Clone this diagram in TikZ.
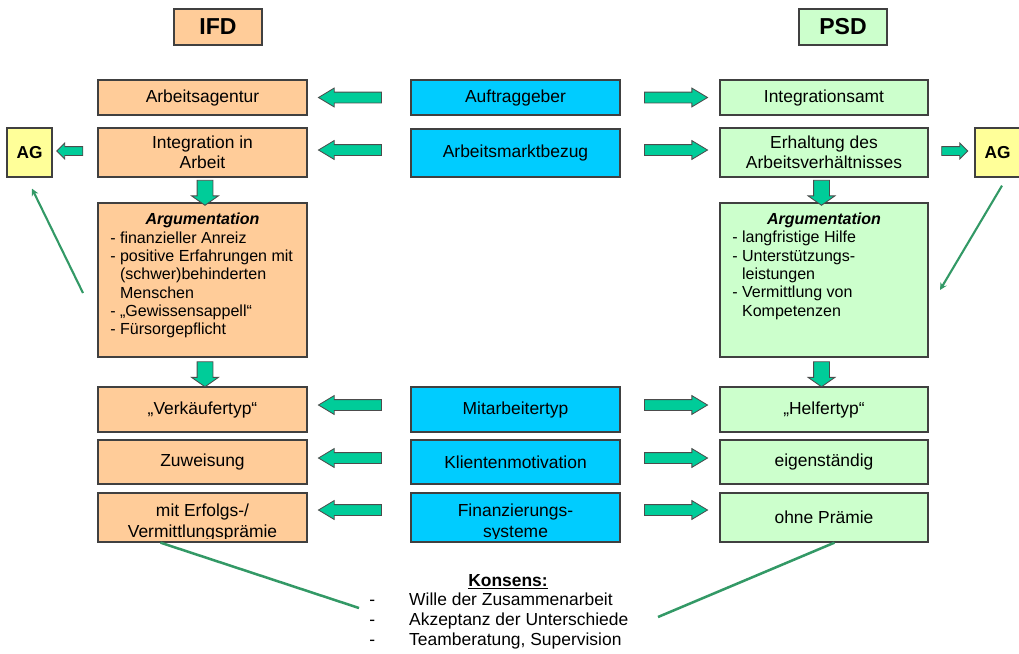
\documentclass[tikz,border=0pt]{standalone}
\usepackage{fontspec}
\setmainfont{Liberation Sans}
\usetikzlibrary{shapes.arrows,arrows.meta,calc}
\newlength\px
\setlength\px{0.025cm}
\definecolor{ifdorange}{HTML}{FFCC99}
\definecolor{psdgreen}{HTML}{CCFFCC}
\definecolor{midblue}{HTML}{00CCFF}
\definecolor{agyellow}{HTML}{FFFF99}
\definecolor{arrowgreen}{HTML}{00CC99}
\definecolor{linegreen}{HTML}{339966}
\tikzset{
  box/.style={draw=black!75, line width=0.9pt, minimum width=209\px, align=center, inner sep=0pt, font=\fontsize{12.4}{14.3}\selectfont},
  ifdbox/.style={box, fill=ifdorange},
  psdbox/.style={box, fill=psdgreen, minimum width=208\px},
  midbox/.style={box, fill=midblue},
  headbox/.style={box, minimum width=88\px, minimum height=36\px, font=\fontsize{16.4}{18}\selectfont\bfseries},
  agbox/.style={box, fill=agyellow, minimum width=45\px, minimum height=49\px, font=\fontsize{12.3}{14}\selectfont\bfseries},
  boxtext/.style={align=center, inner sep=0pt, font=\fontsize{12.4}{14.3}\selectfont},
  listtitle/.style={inner sep=0pt, font=\fontsize{11.4}{13}\selectfont\bfseries\itshape},
  listtext/.style={align=left, inner sep=0pt, font=\fontsize{11.4}{13}\selectfont},
  blockarrow/.style={single arrow, draw=black!70, fill=arrowgreen, line width=0.6pt, inner sep=5\px, minimum height=63\px, single arrow head extend=4\px, single arrow tip angle=62},
  leftarrow/.style={blockarrow, rotate=180},
  downarrow/.style={blockarrow, rotate=-90, inner sep=7.5\px, minimum height=25\px, single arrow head extend=5.5\px, single arrow tip angle=110},
  smallarrow/.style={blockarrow, inner sep=4\px, minimum height=26\px, single arrow head extend=3.5\px, single arrow tip angle=90},
  agline/.style={linegreen, line width=1.5pt, -{Stealth[length=5pt,width=5pt]}},
  konsline/.style={linegreen, line width=1.8pt},
}
\begin{document}
\begin{tikzpicture}[x=0.025cm, y=-0.025cm]
    \useasboundingbox (0,0) rectangle (1019,653);
    % Kopfzeile
    \node [headbox, fill=ifdorange] (ifd) at (218,27) {IFD};
    \node [headbox, fill=psdgreen] (psd) at (843,27) {PSD};
    % linke Spalte (IFD)
    \node [ifdbox, minimum height=35\px] (arbag) at (202.5,97.5) {Arbeitsagentur};
    \node [ifdbox, minimum height=49\px] (integ) at (202.5,152.5) {Integration in\\Arbeit};
    \node [ifdbox, minimum height=154\px] (argl) at (202.5,280) {};
    \node [ifdbox, minimum height=45\px] (verk) at (202.5,409.5) {„Verkäufertyp“};
    \node [ifdbox, minimum height=44\px] (zuw) at (202.5,462) {Zuweisung};
    \node [ifdbox, minimum height=49\px] (erfolg) at (202.5,517.5) {};
    % mittlere Spalte
    \node [midbox, minimum height=35\px] (auftr) at (515.5,97.5) {Auftraggeber};
    \node [midbox, minimum height=48\px] (amb) at (515.5,153) {Arbeitsmarktbezug};
    \node [midbox, minimum height=45\px] (mitarb) at (515.5,409.5) {Mitarbeitertyp};
    \node [midbox, minimum height=44\px] (klient) at (515.5,462) {Klientenmotivation};
    \node [midbox, minimum height=49\px] (finanz) at (515.5,517.5) {};
    % rechte Spalte (PSD)
    \node [psdbox, minimum height=35\px] (intamt) at (824,97.5) {Integrationsamt};
    \node [psdbox, minimum height=49\px] (erhalt) at (824,152.5) {Erhaltung des\\Arbeitsverhältnisses};
    \node [psdbox, minimum height=154\px] (argr) at (824,280) {};
    \node [psdbox, minimum height=45\px] (helfer) at (824,409.5) {„Helfertyp“};
    \node [psdbox, minimum height=44\px] (eigen) at (824,462) {eigenständig};
    \node [psdbox, minimum height=49\px] (ohne) at (824,517.5) {ohne Prämie};
    % Arbeitgeber
    \node [agbox] (agL) at (29.5,152.5) {AG};
    \node [agbox] (agR) at (997.5,152.5) {AG};
    % Argumentation
    \node [listtitle, anchor=base] (argltitel) at (202.5,224) {Argumentation};
    \node [listtext, anchor=north west] (argltext) at (110,231.5) {- finanzieller Anreiz\\- positive Erfahrungen mit\\\phantom{- }(schwer)behinderten\\\phantom{- }Menschen\\- „Gewissensappell“\\- Fürsorgepflicht};
    \node [listtitle, anchor=base] (argrtitel) at (824,224) {Argumentation};
    \node [listtext, anchor=north west] (argrtext) at (732,231) {- langfristige Hilfe\\- Unterstützungs-\\\phantom{- }leistungen\\- Vermittlung von\\\phantom{- }Kompetenzen};
    % abgeschnittene Texte
    \begin{scope}
      \clip (erfolg.north west) rectangle ([yshift=4.5\px]erfolg.south east);
      \node [boxtext] (erfolgtext) at (202.5,522.5) {mit Erfolgs-/\\Vermittlungsprämie};
    \end{scope}
    \begin{scope}
      \clip (finanz.north west) rectangle ([yshift=4.5\px]finanz.south east);
      \node [boxtext] (finanztext) at (515.5,522.5) {Finanzierungs-\\systeme};
    \end{scope}
    % Blockpfeile
    \node [leftarrow] (pl1) at (354.5,97.5) {};
    \node [leftarrow] (pl2) at (354.5,150) {};
    \node [leftarrow] (pl3) at (354.5,405) {};
    \node [leftarrow] (pl4) at (354.5,458) {};
    \node [leftarrow] (pl5) at (354.5,510) {};
    \node [blockarrow] (pr1) at (671.5,97.5) {};
    \node [blockarrow] (pr2) at (671.5,150) {};
    \node [blockarrow] (pr3) at (671.5,405) {};
    \node [blockarrow] (pr4) at (671.5,458) {};
    \node [blockarrow] (pr5) at (671.5,510) {};
    \node [downarrow] (pd1) at (205,190) {};
    \node [downarrow] (pd2) at (205,371.5) {};
    \node [downarrow] (pd3) at (821.5,190) {};
    \node [downarrow] (pd4) at (821.5,371.5) {};
    \node [smallarrow, rotate=180] (pag1) at (72,151) {};
    \node [smallarrow] (pag2) at (952.5,151) {};
    % Linien zum AG
    \coordinate (agLfuss) at (83,293);
    \coordinate (agRfuss) at (940,290);
    \draw [agline] (agLfuss) -- ([xshift=2.5\px, yshift=-11\px]agL.south);
    \draw [agline] ([xshift=4.5\px, yshift=-8\px]agR.south) -- (agRfuss);
    % Konsens
    \node [boxtext, font=\fontsize{12.4}{14.3}\selectfont\bfseries] (konsens) at (508,582) {\underline{Konsens:}};
    \node [boxtext, anchor=north west] (konsliste) at (369,591) {\begin{tabular}{@{}p{28.4pt}@{}l@{}}
      - & Wille der Zusammenarbeit\\
      - & Akzeptanz der Unterschiede\\
      - & Teamberatung, Supervision
    \end{tabular}};
    \coordinate (konsL) at (359,608);
    \coordinate (konsR) at (658,617);
    \draw [konsline] ($(erfolg.south west)!0.3!(erfolg.south east)$) -- (konsL);
    \draw [konsline] ($(ohne.south west)!0.55!(ohne.south east)$) -- (konsR);
  \end{tikzpicture}
\end{document}
